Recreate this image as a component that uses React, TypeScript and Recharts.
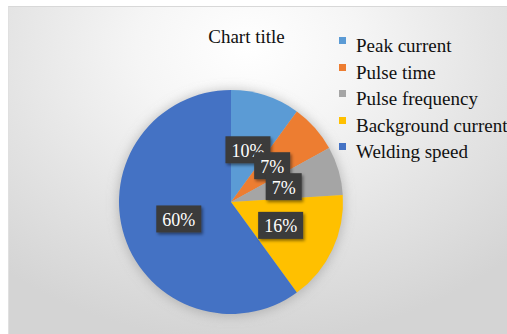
import React from 'react';
import { PieChart, Pie, Cell } from 'recharts';

const categories = ['Peak current', 'Pulse time', 'Pulse frequency', 'Background current', 'Welding speed'];
const values = [10, 7, 7, 16, 60];
const colors = ['#5B9BD5', '#ED7D31', '#A5A5A5', '#FFC000', '#4472C4'];
const chartTitle = 'Chart title';

const data = categories.map((name, i) => ({ name, value: values[i] }));
const total = values.reduce((a, b) => a + b, 0);
const shadowData = [{ name: 'shadow', value: total }];

const FONT = '"Liberation Serif", "Times New Roman", Times, serif';
const RAD = Math.PI / 180;

const renderLabel = (props: any) => {
  const { cx, cy, midAngle, outerRadius, value } = props;
  const r = outerRadius * 0.49;
  const x = cx + r * Math.cos(-midAngle * RAD);
  const y = cy + r * Math.sin(-midAngle * RAD);
  const text = `${Math.round((value / total) * 100)}%`;
  let w = 0;
  for (const ch of text) w += ch === '%' ? 15 : 9;
  const bw = w + 12;
  const bh = 27;
  return (
    <g>
      <rect x={x - bw / 2} y={y - bh / 2} width={bw} height={bh} fill="#3a3a3a" filter="url(#boxShadow)" />
      <text x={x} y={y + 1} fill="#ffffff" fontFamily={FONT} fontSize={18} textAnchor="middle" dominantBaseline="central">
        {text}
      </text>
    </g>
  );
};

export default function App() {
  return (
    <div style={{ position: 'fixed', left: 0, top: 0, width: 507, height: 334, background: '#ffffff', overflow: 'hidden', fontFamily: FONT }}>
      <div
        style={{
          position: 'absolute',
          left: 8,
          top: 6,
          width: 499,
          height: 328,
          borderTop: '1px solid #d8d8d8',
          borderLeft: '1px solid #e0e0e0',
          background: 'radial-gradient(ellipse 75% 90% at 48% 12%, #ffffff 0%, #f5f5f5 30%, #e4e4e4 65%, #d4d4d4 100%)',
        }}
      />
      <div
        style={{
          position: 'absolute',
          left: 0,
          top: 26,
          width: 493,
          textAlign: 'center',
          fontFamily: FONT,
          fontSize: 19,
          color: '#111',
        }}
      >
        {chartTitle}
      </div>
      <div style={{ position: 'absolute', left: 0, top: 0 }}>
        <PieChart width={507} height={334} margin={{ top: 0, right: 0, bottom: 0, left: 0 }}>
          <defs>
            <filter id="pieShadow" x="-30%" y="-30%" width="160%" height="160%">
              <feGaussianBlur stdDeviation="6" />
            </filter>
            <filter id="boxShadow" x="-30%" y="-30%" width="160%" height="160%">
              <feDropShadow dx="1.5" dy="2" stdDeviation="1.5" floodColor="#000" floodOpacity="0.45" />
            </filter>
          </defs>
          <Pie
            data={shadowData}
            dataKey="value"
            cx={231}
            cy={203}
            outerRadius={113}
            startAngle={90}
            endAngle={-270}
            stroke="none"
            fill="#8a8a8a"
            fillOpacity={0.5}
            filter="url(#pieShadow)"
            isAnimationActive={false}
            label={false}
            labelLine={false}
          />
          <Pie
            data={data}
            dataKey="value"
            nameKey="name"
            cx={231}
            cy={202}
            outerRadius={112}
            startAngle={90}
            endAngle={-270}
            stroke="none"
            isAnimationActive={false}
            labelLine={false}
            label={renderLabel}
          >
            {data.map((d, i) => (
              <Cell key={d.name} fill={colors[i]} stroke="none" />
            ))}
          </Pie>
        </PieChart>
      </div>
      <div style={{ position: 'absolute', left: 339, top: 33, width: 170, fontFamily: FONT, fontSize: 19, color: '#111' }}>
        {categories.map((c, i) => (
          <div key={c} style={{ position: 'relative', height: 26.5, lineHeight: '26.5px', paddingLeft: 17, whiteSpace: 'nowrap' }}>
            <span style={{ position: 'absolute', left: 0, top: 4, width: 7, height: 7, background: colors[i] }} />
            {c}
          </div>
        ))}
      </div>
    </div>
  );
}
